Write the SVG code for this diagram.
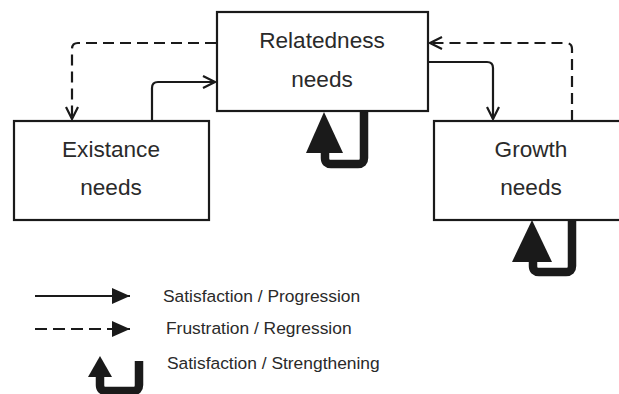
<svg xmlns="http://www.w3.org/2000/svg" width="619" height="394" viewBox="0 0 619 394">
<defs>
<style>
.box{fill:#fff;stroke:#1a1a1a;stroke-width:2.2}
.lbl{font-family:"Liberation Sans",Arial,sans-serif;font-size:22.6px;fill:#2a2a2a;text-anchor:middle}
.leg{font-family:"Liberation Sans",Arial,sans-serif;font-size:17.4px;fill:#2a2a2a}
.con{fill:none;stroke:#1a1a1a;stroke-width:2.2;stroke-linejoin:round}
.dash{stroke-dasharray:11 6}
.loop{fill:none;stroke:#1a1a1a;stroke-width:8.5;stroke-linejoin:round}
.head{fill:#1a1a1a}
</style>
<marker id="open" viewBox="0 0 14 14" refX="13" refY="7" markerWidth="14" markerHeight="14" markerUnits="userSpaceOnUse" orient="auto">
<path d="M1,1 L13,7 L1,13" fill="none" stroke="#1a1a1a" stroke-width="2.2" stroke-linejoin="miter"/>
</marker>
<marker id="fill" viewBox="0 0 18 16" refX="18" refY="8" markerWidth="18" markerHeight="16" markerUnits="userSpaceOnUse" orient="auto">
<path d="M0,0 L18,8 L0,16 Z" fill="#1a1a1a"/>
</marker>
</defs>
<rect width="619" height="394" fill="#fff"/>

<g id="connectors">
<path class="con dash" d="M216,43 H78 Q72,43 72,49 V119" marker-end="url(#open)"/>
<path class="con" d="M152,121 V88 Q152,82 158,82 H215" marker-end="url(#open)"/>
<path class="con" d="M428,62 H487 Q493,62 493,68 V119" marker-end="url(#open)"/>
<path class="con dash" d="M572,121 V49 Q572,43 566,43 H430" marker-end="url(#open)"/>
<path class="loop" d="M364,111 V158 Q364,164 358,164 H331 Q325,164 325,158 V150"/>
<path class="head" d="M324,112 L306,153 L343,153 Z"/>
<path class="loop" d="M572,220 V266 Q572,272 566,272 H539 Q533,272 533,266 V258"/>
<path class="head" d="M532,220 L512,262 L552,262 Z"/>
</g>

<g id="relatedness">
<rect class="box" x="217" y="12" width="211" height="99"/>
<text class="lbl" x="322" y="48">Relatedness</text>
<text class="lbl" x="322" y="87">needs</text>
</g>

<g id="existance">
<rect class="box" x="14" y="121" width="195" height="99"/>
<text class="lbl" x="111" y="157">Existance</text>
<text class="lbl" x="111" y="195">needs</text>
</g>

<g id="growth">
<rect class="box" x="434" y="121" width="200" height="99"/>
<text class="lbl" x="531" y="157">Growth</text>
<text class="lbl" x="531" y="195">needs</text>
</g>

<g id="legend">
<path class="con" d="M35,296 H130" stroke-width="2.6" marker-end="url(#fill)"/>
<path class="con" d="M35,329 H130" stroke-width="3" stroke-dasharray="12 6" marker-end="url(#fill)"/>
<path class="loop" stroke-width="3.5" d="M139,361 V385 Q139,391 133,391 H106 Q100,391 100,385 V374"/>
<path class="head" d="M100,356 L88,377 L112,377 Z"/>
<text class="leg" x="163" y="302">Satisfaction / Progression</text>
<text class="leg" x="166" y="334">Frustration / Regression</text>
<text class="leg" x="167" y="369">Satisfaction / Strengthening</text>
</g>
</svg>
